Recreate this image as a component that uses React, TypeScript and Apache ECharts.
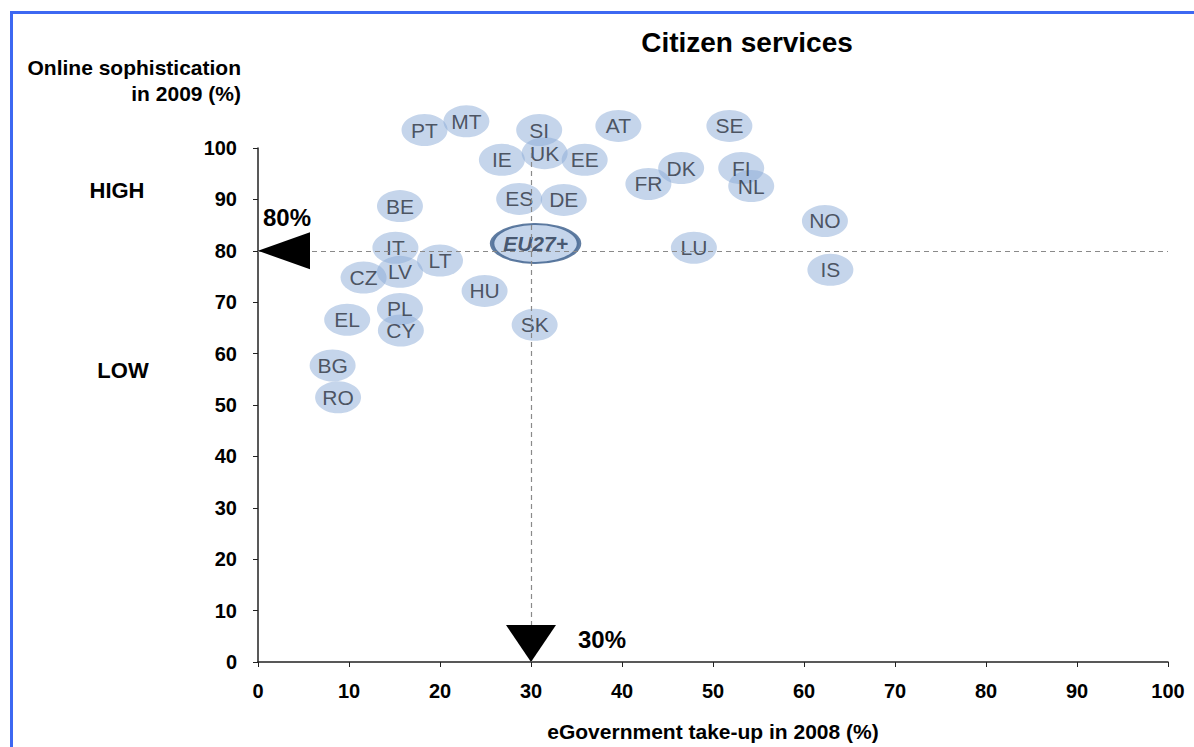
import React, { useEffect, useRef } from "react";
import * as echarts from "echarts";

const countries = ["PT","MT","SI","AT","SE","IE","UK","EE","DK","FI","FR","NL","ES","DE","BE","NO","LU","IT","LT","LV","CZ","IS","HU","PL","EL","SK","CY","BG","RO"];
const takeUp =    [18.3, 22.9, 30.9, 39.6, 51.8, 26.8, 31.5, 35.9, 46.5, 53.1, 42.9, 54.2, 28.7, 33.6, 15.6, 62.3, 47.9, 15.1, 20.0, 15.6, 11.6, 62.9, 24.9, 15.6, 9.8, 30.4, 15.7, 8.2, 8.8];
const sophist =   [103.5, 105.2, 103.5, 104.3, 104.3, 97.7, 99.0, 97.7, 96.1, 96.1, 93.0, 92.6, 90.1, 89.9, 88.7, 85.8, 80.6, 80.6, 78.1, 75.9, 74.8, 76.3, 72.2, 68.7, 66.6, 65.6, 64.5, 57.7, 51.5];
const euName = "EU27+";
const euPoint = [30.5, 81.4];
const thresholdX = 30;
const thresholdY = 80;
const xTicks = [0, 100, 10];
const yTicks = [0, 100, 10];

export default function App() {
  const ref = useRef<HTMLDivElement>(null);
  useEffect(() => {
    const chart = echarts.init(ref.current!, null, { renderer: "svg" });
    const font = "'Liberation Sans', Arial, sans-serif";
    const bubbleFill = "rgba(138,170,214,0.62)";
    const option: any = {
      animation: false,
      textStyle: { fontFamily: font },
      title: {
        text: "Citizen services",
        left: 742,
        top: 23,
        textAlign: "center",
        textStyle: { fontSize: 28, fontWeight: "bold", color: "#000", fontFamily: font },
      },
      grid: { left: 258, right: 26, top: 148, bottom: 84 },
      xAxis: {
        type: "value",
        min: xTicks[0],
        max: xTicks[1],
        interval: xTicks[2],
        name: "eGovernment take-up in 2008 (%)",
        nameLocation: "middle",
        nameGap: 59,
        nameTextStyle: { fontSize: 21, fontWeight: "bold", color: "#000", fontFamily: font },
        axisLine: { lineStyle: { color: "#222", width: 1.5 } },
        axisTick: { show: true, inside: false, length: 5, lineStyle: { color: "#222" } },
        axisLabel: { fontSize: 20, fontWeight: "bold", color: "#000", margin: 19, fontFamily: font },
        splitLine: { show: false },
      },
      yAxis: {
        type: "value",
        min: yTicks[0],
        max: yTicks[1],
        interval: yTicks[2],
        name: "Online sophistication\nin 2009 (%)",
        nameLocation: "end",
        nameGap: 42,
        nameTextStyle: { fontSize: 21, fontWeight: "bold", color: "#000", align: "right", lineHeight: 26, padding: [0, 17, 0, 0], fontFamily: font },
        axisLine: { show: true, lineStyle: { color: "#222", width: 1.5 } },
        axisTick: { show: true, inside: false, length: 5, lineStyle: { color: "#222" } },
        axisLabel: { fontSize: 20, fontWeight: "bold", color: "#000", margin: 21, fontFamily: font },
        splitLine: { show: false },
      },
      graphic: [
        { type: "rect", shape: { x: 11.5, y: 12.5, width: 1400, height: 900 }, style: { fill: "none", stroke: "#3d68f2", lineWidth: 3 }, z: 100 },
        { type: "text", x: 117, y: 190, style: { text: "HIGH", fill: "#000", align: "center", verticalAlign: "middle", font: `bold 22px ${font}` } },
        { type: "text", x: 123, y: 370, style: { text: "LOW", fill: "#000", align: "center", verticalAlign: "middle", font: `bold 22px ${font}` } },
      ],
      series: [
        {
          type: "scatter",
          z: 2,
          clip: false,
          symbol: "circle",
          symbolSize: [46, 32],
          itemStyle: { color: bubbleFill },
          label: { show: true, position: "inside", formatter: "{b}", fontSize: 21, color: "#2c323d", fontFamily: font },
          data: countries.map((c, i) => ({ name: c, value: [takeUp[i], sophist[i]] })),
        },
        {
          type: "scatter",
          z: 3,
          clip: false,
          symbol: "circle",
          symbolSize: [87, 39],
          itemStyle: { color: bubbleFill, borderColor: "#3a5c8a", borderWidth: 3 },
          label: { show: true, position: "inside", formatter: "{b}", fontSize: 21, fontWeight: "bold", fontStyle: "italic", color: "#263650", fontFamily: font },
          data: [{ name: euName, value: euPoint }],
        },
        {
          type: "line",
          z: 4,
          data: [],
          markLine: {
            silent: true,
            symbol: "none",
            label: { show: false },
            lineStyle: { type: [5, 4], color: "#8a8a8a", width: 1.2 },
            data: [
              [{ coord: [0, thresholdY] }, { coord: [100, thresholdY] }],
              [{ coord: [thresholdX, 0] }, { coord: [thresholdX, 100] }],
            ],
          },
        },
        {
          type: "custom",
          z: 5,
          clip: false,
          data: [[0, thresholdY, 0], [thresholdX, 0, 1]],
          renderItem: (params: any, api: any) => {
            const p = api.coord([api.value(0), api.value(1)]);
            const kind = api.value(2);
            if (kind === 0) {
              return {
                type: "group",
                children: [
                  { type: "polygon", shape: { points: [[p[0], p[1]], [p[0] + 52, p[1] - 18.5], [p[0] + 52, p[1] + 18.5]] }, style: { fill: "#000" } },
                  { type: "text", x: p[0] + 5, y: p[1] - 33, style: { text: `${thresholdY}%`, font: `bold 24px ${font}`, fill: "#000", align: "left", verticalAlign: "middle" } },
                ],
              };
            }
            return {
              type: "group",
              children: [
                { type: "polygon", shape: { points: [[p[0], p[1]], [p[0] - 25, p[1] - 37], [p[0] + 25, p[1] - 37]] }, style: { fill: "#000" } },
                { type: "text", x: p[0] + 47, y: p[1] - 23, style: { text: `${thresholdX}%`, font: `bold 24px ${font}`, fill: "#000", align: "left", verticalAlign: "middle" } },
              ],
            };
          },
        },
      ],
    };
    chart.setOption(option);
    return () => chart.dispose();
  }, []);
  return <div ref={ref} style={{ position: "fixed", left: 0, top: 0, width: 1194, height: 747, background: "#fff" }} />;
}
